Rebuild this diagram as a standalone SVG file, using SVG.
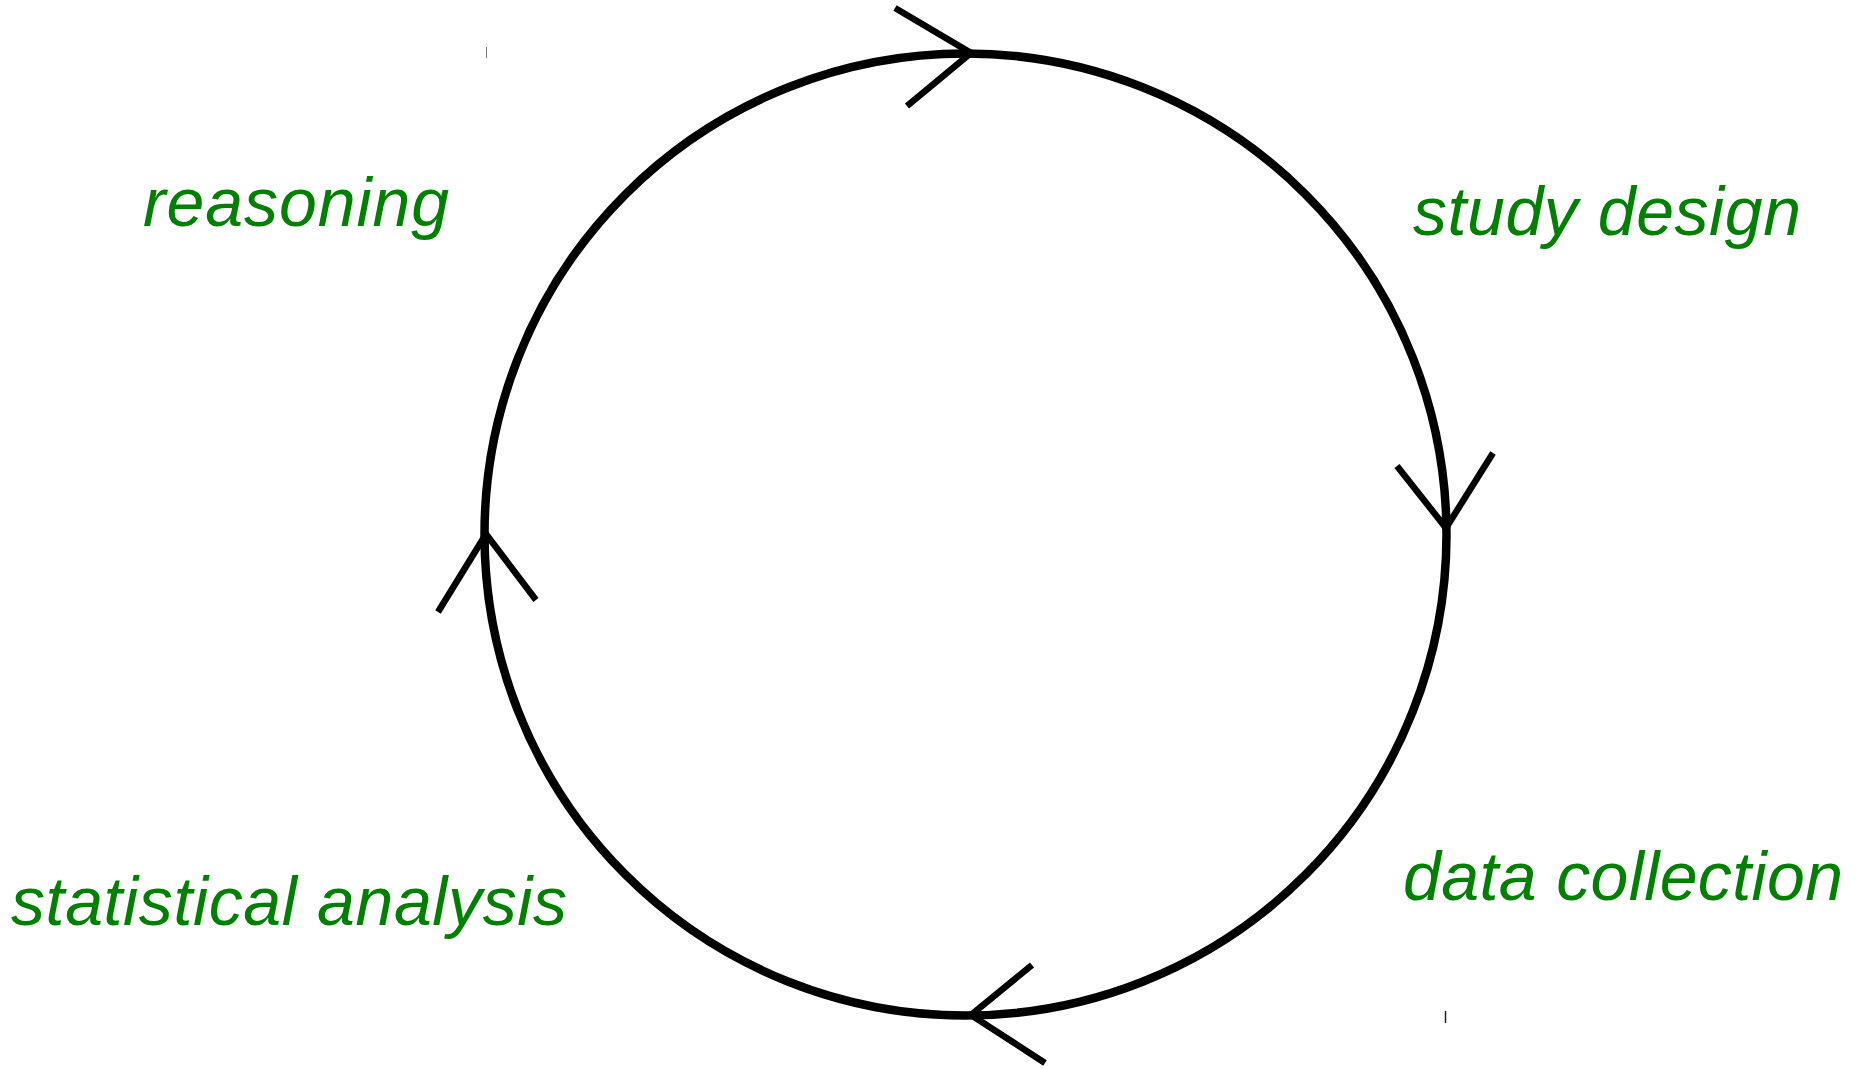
<svg xmlns="http://www.w3.org/2000/svg" width="1863" height="1069" viewBox="0 0 1863 1069">
<style>
.lbl{font-family:"Liberation Sans",Arial,sans-serif;font-style:italic;font-size:68px;fill:#008000}
.arm{stroke:#000;stroke-width:6.5;fill:none}
</style>
<rect width="1863" height="1069" fill="#fff"/>
<g id="cycle">
<circle cx="965.5" cy="534.5" r="481" fill="none" stroke="#000" stroke-width="8.5"/>
</g>
<g id="connectors">
<polyline class="arm" points="895,8 971,53 907,106"/>
<polyline class="arm" points="1397,466 1446,528 1493,453"/>
<polyline class="arm" points="1032,965 971,1015 1045,1063"/>
<polyline class="arm" points="438,612 486,534 536,600"/>
<line x1="486.5" y1="47" x2="486.5" y2="58" stroke="#777" stroke-width="1"/>
<line x1="1445.5" y1="1011" x2="1445.5" y2="1023" stroke="#222" stroke-width="1.5"/>
</g>
<g id="reasoning"><text class="lbl" x="143" y="226" textLength="306" lengthAdjust="spacing">reasoning</text></g>
<g id="study-design"><text class="lbl" x="1413" y="235" textLength="388" lengthAdjust="spacing">study design</text></g>
<g id="data-collection"><text class="lbl" x="1403" y="900" textLength="440" lengthAdjust="spacing">data collection</text></g>
<g id="statistical-analysis"><text class="lbl" x="11" y="925" textLength="556" lengthAdjust="spacing">statistical analysis</text></g>
</svg>
